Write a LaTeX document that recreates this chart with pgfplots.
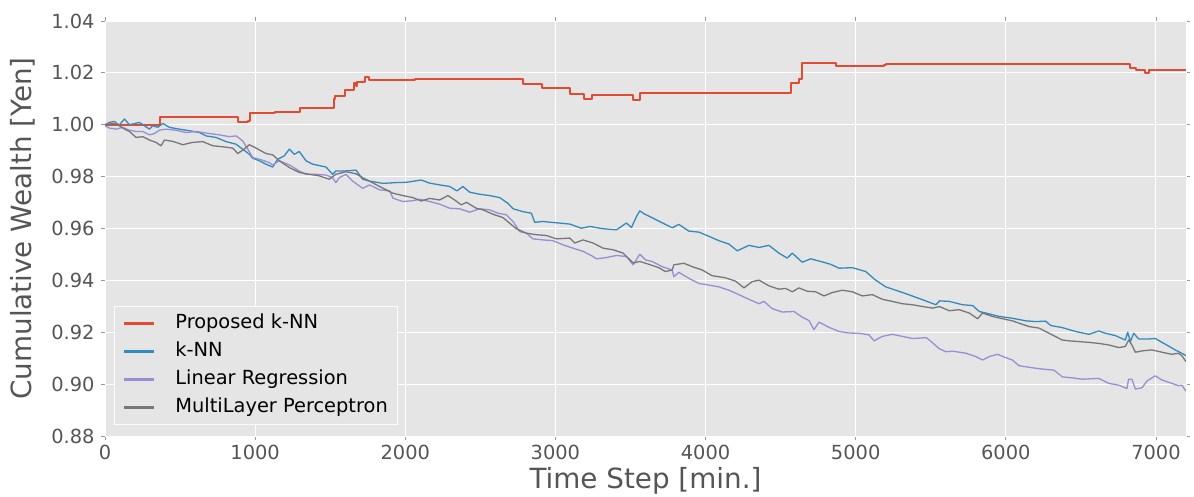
\documentclass[border=0pt]{standalone}
\usepackage{pgfplots}
\pgfplotsset{compat=1.18}
\usepackage{fontspec}
\setmainfont{DejaVu Sans}
\definecolor{cRed}{HTML}{E24A33}
\definecolor{cBlue}{HTML}{348ABD}
\definecolor{cPurple}{HTML}{988ED5}
\definecolor{cGray}{HTML}{777777}
\definecolor{bgGray}{HTML}{E5E5E5}
\definecolor{txtGray}{HTML}{555555}
\definecolor{tickGray}{HTML}{999999}
\begin{document}
\begin{tikzpicture}
\path[use as bounding box] (-105bp,-61bp) rectangle (1089bp,436bp);
\begin{axis}[
  scale only axis,
  width=1081bp, height=415bp,
  at={(0,0)}, anchor=south west,
  xmin=0, xmax=7200, ymin=0.88, ymax=1.04,
  xtick={0,1000,...,7000},
  ytick={0.88,0.90,0.92,0.94,0.96,0.98,1.00,1.02,1.04},
  axis background/.style={fill=bgGray},
  axis line style={draw=white},
  grid=major,
  major grid style={white, line width=1bp},
  tick align=outside,
  major tick length=4bp,
  tick style={tickGray, line width=0.8bp},
  xticklabel style={/pgf/number format/.cd, 1000 sep={}},
  yticklabel style={/pgf/number format/.cd, fixed, fixed zerofill, precision=2},
  /pgf/number format/assume math mode=true,
  tick label style={font=\fontsize{19.4bp}{23bp}\selectfont, text=txtGray},
  xticklabel shift=2bp,
  yticklabel shift=3bp,
  xlabel={Time Step [min.]},
  ylabel={Cumulative Wealth [Yen]},
  every axis x label/.style={at={([yshift=-45bp]rel axis cs:0.5,0)}, anchor=center,
    font=\fontsize{27.8bp}{32bp}\selectfont, text=txtGray},
  every axis y label/.style={at={([xshift=-82bp]rel axis cs:0,0.5)}, anchor=center, rotate=90,
    font=\fontsize{27.8bp}{32bp}\selectfont, text=txtGray},
  legend cell align=left,
  legend image code/.code={\draw[#1, line width=3bp] (0bp,0bp) -- (30bp,0bp);},
  legend style={at={(rel axis cs:0,0)}, anchor=south west, xshift=9bp, yshift=11bp,
    fill=bgGray, draw=white!85!bgGray, line width=0.8bp,
    font=\fontsize{19.4bp}{23bp}\selectfont, text=black,
    inner xsep=8bp, inner ysep=5bp, row sep=4bp, column sep=18bp,
    nodes={inner ysep=3bp, text height=14bp, text depth=4bp}},
  every axis plot/.append style={line width=1.3bp, line join=round},
]
\addplot[draw=cRed, line width=2bp] coordinates {
(0,1.0000) (367,1.0000) (367,1.0031) (517,1.0031) (517,1.0029) (887,1.0029)
(887,1.0010) (950,1.0010) (950,1.0014) (967,1.0014) (967,1.0047)
(1133,1.0047) (1133,1.0050) (1300,1.0050) (1300,1.0063) (1522,1.0063)
(1522,1.0100) (1535,1.0100) (1535,1.0112) (1600,1.0112) (1600,1.0134)
(1660,1.0134) (1660,1.0160) (1670,1.0160) (1670,1.0150) (1680,1.0150)
(1680,1.0166) (1733,1.0166) (1733,1.0183) (1760,1.0183) (1760,1.0173)
(2067,1.0173) (2067,1.0175) (2787,1.0175) (2787,1.0157) (2911,1.0157)
(2911,1.0143) (3095,1.0143) (3095,1.0120) (3189,1.0120) (3189,1.0099)
(3244,1.0099) (3244,1.0116) (3518,1.0116) (3518,1.0094) (3562,1.0094)
(3562,1.0121) (4567,1.0121) (4567,1.0162) (4620,1.0162) (4620,1.0175)
(4644,1.0175) (4644,1.0237) (4867,1.0237) (4867,1.0228) (5189,1.0228)
(5189,1.0230) (5200,1.0230) (5200,1.0236) (6827,1.0236) (6827,1.0220)
(6867,1.0220) (6867,1.0211) (6927,1.0211) (6927,1.0200) (6953,1.0200)
(6953,1.0210) (7200,1.0210)
};
\addlegendentry{Proposed k-NN}
\addplot[draw=cBlue] coordinates {
(0,1.0000) (52,1.0005) (96,1.0000) (130,1.0022) (163,1.0000) (229,1.0009)
(263,0.9996) (296,0.9983) (318,0.9996) (351,0.9990) (385,1.0005) (429,0.9990)
(496,0.9983) (562,0.9977) (629,0.9970) (673,0.9957) (740,0.9951) (806,0.9935)
(873,0.9925) (917,0.9906) (962,0.9886) (984,0.9871) (1028,0.9861) (1072,0.9848)
(1117,0.9837) (1150,0.9867) (1194,0.9880) (1228,0.9906) (1261,0.9886)
(1294,0.9897) (1339,0.9861) (1383,0.9848) (1472,0.9837) (1516,0.9809)
(1538,0.9822) (1605,0.9822) (1672,0.9825) (1716,0.9790) (1760,0.9783)
(1851,0.9774) (1940,0.9777) (2007,0.9778) (2107,0.9787) (2162,0.9775)
(2229,0.9768) (2296,0.9762) (2344,0.9745) (2384,0.9762) (2429,0.9740)
(2496,0.9732) (2562,0.9727) (2629,0.9719) (2684,0.9697) (2718,0.9676)
(2784,0.9665) (2840,0.9659) (2862,0.9624) (2918,0.9627) (3007,0.9622)
(3096,0.9617) (3173,0.9601) (3229,0.9608) (3318,0.9599) (3407,0.9595)
(3473,0.9621) (3507,0.9604) (3540,0.9646) (3562,0.9668) (3596,0.9655)
(3629,0.9646) (3711,0.9622) (3778,0.9603) (3822,0.9616) (3889,0.9590)
(3956,0.9586) (4022,0.9570) (4089,0.9553) (4156,0.9540) (4211,0.9514)
(4289,0.9535) (4356,0.9527) (4422,0.9535) (4489,0.9505) (4544,0.9486)
(4578,0.9505) (4644,0.9470) (4700,0.9483) (4767,0.9473) (4833,0.9462)
(4889,0.9447) (4978,0.9449) (5067,0.9434) (5133,0.9401) (5200,0.9375)
(5267,0.9362) (5333,0.9349) (5447,0.9325) (5535,0.9306) (5558,0.9321)
(5624,0.9319) (5712,0.9306) (5779,0.9303) (5823,0.9280) (5867,0.9274)
(5956,0.9261) (6044,0.9254) (6133,0.9244) (6199,0.9241) (6265,0.9243)
(6299,0.9226) (6376,0.9218) (6465,0.9203) (6553,0.9192) (6619,0.9205)
(6664,0.9196) (6730,0.9187) (6796,0.9170) (6812,0.9200) (6830,0.9164)
(6852,0.9196) (6885,0.9174) (6951,0.9174) (6995,0.9176) (7062,0.9154)
(7128,0.9132) (7172,0.9119) (7200,0.9110)
};
\addlegendentry{k-NN}
\addplot[draw=cPurple] coordinates {
(0,0.9996) (30,0.9987) (74,0.9983) (118,0.9990) (163,0.9979) (207,0.9974)
(251,0.9974) (296,0.9961) (329,0.9966) (362,0.9979) (407,0.9983) (473,0.9979)
(540,0.9970) (607,0.9974) (695,0.9966) (762,0.9961) (828,0.9954) (873,0.9957)
(917,0.9938) (951,0.9906) (984,0.9874) (1050,0.9863) (1095,0.9854)
(1117,0.9845) (1161,0.9861) (1228,0.9845) (1294,0.9822) (1339,0.9809)
(1405,0.9809) (1472,0.9806) (1516,0.9796) (1538,0.9777) (1561,0.9796)
(1605,0.9809) (1649,0.9783) (1694,0.9764) (1716,0.9755) (1762,0.9768)
(1829,0.9749) (1896,0.9745) (1918,0.9717) (1984,0.9704) (2051,0.9707)
(2096,0.9713) (2162,0.9704) (2229,0.9694) (2296,0.9678) (2362,0.9676)
(2429,0.9663) (2496,0.9676) (2562,0.9672) (2618,0.9659) (2673,0.9653)
(2718,0.9627) (2762,0.9588) (2807,0.9582) (2851,0.9560) (2918,0.9556)
(2984,0.9553) (3051,0.9537) (3118,0.9524) (3184,0.9512) (3251,0.9492)
(3273,0.9483) (3340,0.9488) (3407,0.9496) (3473,0.9492) (3518,0.9460)
(3562,0.9501) (3600,0.9479) (3644,0.9473) (3711,0.9453) (3778,0.9440)
(3789,0.9414) (3822,0.9431) (3889,0.9408) (3956,0.9388) (4022,0.9382)
(4089,0.9375) (4156,0.9362) (4222,0.9345) (4289,0.9327) (4356,0.9310)
(4389,0.9319) (4444,0.9291) (4511,0.9278) (4589,0.9280) (4644,0.9258)
(4689,0.9245) (4722,0.9210) (4756,0.9239) (4822,0.9219) (4889,0.9203)
(4956,0.9197) (5022,0.9196) (5089,0.9190) (5122,0.9167) (5178,0.9184)
(5244,0.9192) (5311,0.9184) (5378,0.9176) (5469,0.9179) (5491,0.9170)
(5558,0.9136) (5602,0.9125) (5646,0.9127) (5735,0.9119) (5801,0.9106)
(5845,0.9093) (5889,0.9106) (5945,0.9115) (6000,0.9102) (6044,0.9093)
(6088,0.9071) (6177,0.9063) (6243,0.9058) (6321,0.9054) (6376,0.9028)
(6443,0.9024) (6509,0.9019) (6619,0.9022) (6686,0.9003) (6752,0.8996)
(6807,0.8983) (6818,0.9019) (6840,0.9019) (6863,0.8981) (6907,0.8986)
(6940,0.9012) (6995,0.9032) (7040,0.9016) (7106,0.9003) (7150,0.8994)
(7172,0.8996) (7200,0.8973)
};
\addlegendentry{Linear Regression}
\addplot[draw=cGray] coordinates {
(0,1.0000) (30,1.0009) (63,1.0013) (96,0.9996) (130,0.9983) (163,0.9974)
(207,0.9951) (251,0.9954) (296,0.9941) (340,0.9932) (373,0.9919) (396,0.9941)
(451,0.9936) (518,0.9923) (584,0.9932) (651,0.9935) (717,0.9919) (784,0.9915)
(851,0.9910) (884,0.9889) (917,0.9902) (962,0.9923) (1006,0.9910)
(1072,0.9889) (1117,0.9884) (1161,0.9861) (1228,0.9835) (1294,0.9816)
(1361,0.9809) (1427,0.9803) (1494,0.9790) (1538,0.9809) (1605,0.9819)
(1672,0.9811) (1716,0.9796) (1760,0.9783) (1829,0.9762) (1918,0.9736)
(1984,0.9727) (2051,0.9719) (2107,0.9706) (2162,0.9716) (2229,0.9710)
(2284,0.9727) (2329,0.9710) (2373,0.9691) (2407,0.9701) (2473,0.9678)
(2518,0.9672) (2584,0.9655) (2651,0.9642) (2696,0.9620) (2740,0.9599)
(2807,0.9582) (2873,0.9576) (2940,0.9573) (3007,0.9560) (3096,0.9563)
(3129,0.9544) (3184,0.9556) (3251,0.9544) (3318,0.9524) (3384,0.9518)
(3451,0.9505) (3518,0.9467) (3562,0.9473) (3622,0.9462) (3689,0.9449)
(3733,0.9434) (3778,0.9440) (3789,0.9460) (3856,0.9466) (3911,0.9453)
(3978,0.9440) (4044,0.9418) (4133,0.9410) (4200,0.9397) (4256,0.9371)
(4311,0.9395) (4356,0.9401) (4422,0.9379) (4489,0.9366) (4533,0.9369)
(4578,0.9356) (4622,0.9371) (4678,0.9358) (4733,0.9356) (4789,0.9340)
(4844,0.9353) (4911,0.9362) (4978,0.9356) (5044,0.9340) (5111,0.9345)
(5178,0.9327) (5244,0.9319) (5311,0.9310) (5378,0.9306) (5447,0.9299)
(5513,0.9293) (5558,0.9299) (5624,0.9283) (5690,0.9287) (5757,0.9274)
(5812,0.9252) (5845,0.9274) (5911,0.9261) (5978,0.9252) (6044,0.9244)
(6088,0.9235) (6155,0.9222) (6221,0.9216) (6265,0.9203) (6332,0.9183)
(6376,0.9170) (6420,0.9167) (6487,0.9164) (6553,0.9161) (6619,0.9157)
(6686,0.9151) (6752,0.9141) (6796,0.9145) (6818,0.9170) (6840,0.9151)
(6863,0.9123) (6907,0.9128) (6973,0.9132) (7040,0.9123) (7106,0.9115)
(7150,0.9119) (7172,0.9110) (7200,0.9087)
};
\addlegendentry{MultiLayer Perceptron}
\end{axis}
\end{tikzpicture}
\end{document}
